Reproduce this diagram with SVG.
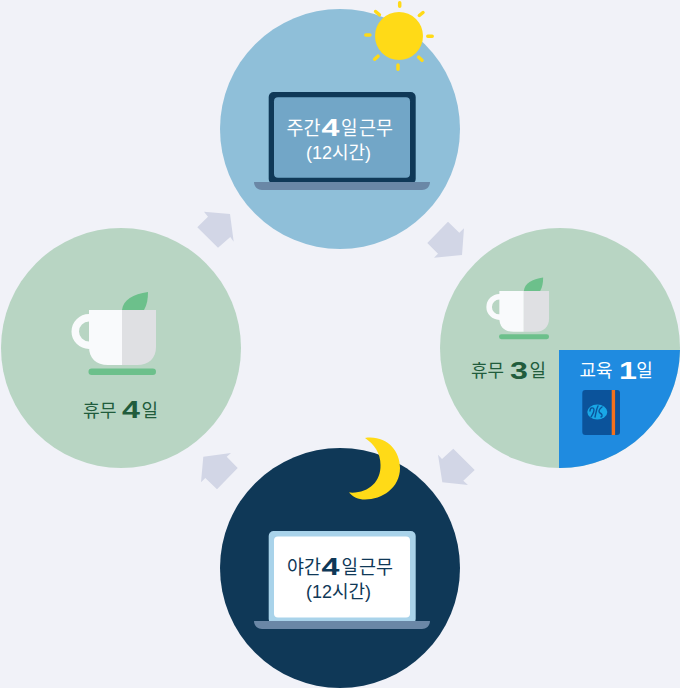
<svg xmlns="http://www.w3.org/2000/svg" width="680" height="688" viewBox="0 0 680 688">
<style>
.k{font-family:"Noto Sans CJK KR","Noto Sans",sans-serif;font-size:18px;font-weight:400}
.t{font-size:19px}
.s{font-family:"Liberation Sans","Noto Sans CJK KR",sans-serif}
.n{font-family:"Liberation Sans",Arial,sans-serif;font-weight:bold;font-size:23px}
.w{fill:#ffffff}.d{fill:#0f3857}.g{fill:#215c3c}
.a{fill:#d2d6e6}
.ray{stroke:#ffda17;stroke-width:3.5;stroke-linecap:round;fill:none}
.swirl{stroke:#0b539b;stroke-width:1.400;fill:none;stroke-linecap:round}
</style>
<defs>
<g id="cup">
<circle cx="18" cy="39.500" r="13.750" fill="none" stroke="#f9fafc" stroke-width="7.500"/>
<path d="M51 18C52 8 62 2 77 0C77 7 76 13 73 18z" fill="#6cc08b"/>
<path d="M18 18H51V73H37C25 73 18 66 18 55z" fill="#f9fafc"/>
<path d="M51 18H85V55C85 66 78 73 66 73H51z" fill="#dfe0e3"/>
<rect x="17.500" y="76.500" width="67.500" height="6.500" rx="3.200" fill="#6cc08b"/>
</g>
</defs>
<rect width="680" height="688" fill="#f1f2f8"/>
<g id="connectors">
<polygon class="a" points="204,211.700 230,214 233.700,241.700 230.300,237 218,247.700 197.300,227.300 208,216.700"/>
<polygon class="a" points="448,221.700 459.300,232.700 464,228.300 462,255 434,257.700 438,253.700 427.300,243"/>
<polygon class="a" points="438,454.700 442,459 453.300,448.700 474.700,470 463.300,480.700 468,485 442.300,482.300"/>
<polygon class="a" points="231,453 226.700,456.700 237.700,468 217,489.300 205.300,478 201,482.300 203.300,456.700"/>
</g>
<g id="node-day">
<circle cx="340" cy="129" r="120" fill="#8fbfd9"/>
<circle cx="399" cy="36" r="24" fill="#ffda17"/>
<path class="ray" d="M399.700 2.800V6.200M419.300 15.500L423 12.500M427.800 36.300H432.200M418.700 57.200L422 60.200M398 65V69.200M374.600 59.200L378 56.200M365.800 35H369.900M375.600 11.500L379.400 14.800"/>
<rect x="268.700" y="92" width="147" height="92" rx="5" fill="#0f3857"/>
<rect x="274" y="97.300" width="136" height="80.400" rx="4" fill="#72a6c7"/>
<path d="M254 182H430C430 187 426 190 422 190H262C258 190 254 187 254 182z" fill="#6a87a6"/>
<text class="k t w" x="286.500" y="134.500" textLength="34" lengthAdjust="spacingAndGlyphs">주간</text>
<text class="n w" x="321.500" y="135.700" transform="translate(321.500,0) scale(1.4,1) translate(-321.500,0)">4</text>
<text class="k t w" x="341" y="134.500" textLength="16.500" lengthAdjust="spacingAndGlyphs">일</text>
<text class="k t w" x="359" y="134.500" textLength="34" lengthAdjust="spacingAndGlyphs">근무</text>
<text class="k s w" x="306" y="158.500" textLength="65" lengthAdjust="spacingAndGlyphs">(12시간)</text>
</g>
<g id="node-rest3">
<circle cx="560" cy="348" r="120" fill="#b8d5c3"/>
<use href="#cup" transform="translate(486,277.600) scale(0.742)"/>
<text class="k g" x="471" y="377" textLength="33" lengthAdjust="spacingAndGlyphs">휴무</text>
<text class="n g" x="510" y="379" transform="translate(510,0) scale(1.4,1) translate(-510,0)">3</text>
<text class="k g" x="529.500" y="377" textLength="16.500" lengthAdjust="spacingAndGlyphs">일</text>
</g>
<g id="node-edu">
<path d="M559 350H680A120 120 0 0 1 559 468z" fill="#1f8be0"/>
<text class="k w" x="579.500" y="377" textLength="33" lengthAdjust="spacingAndGlyphs">교육</text>
<text class="n w" x="619" y="379.500" transform="translate(619,0) scale(1.4,1) translate(-619,0)">1</text>
<text class="k w" x="636.300" y="377" textLength="16.500" lengthAdjust="spacingAndGlyphs">일</text>
<rect x="582.300" y="390" width="37.700" height="45" rx="3" fill="#0b539b"/>
<rect x="611.700" y="390" width="3.400" height="45" fill="#f4711c"/>
<ellipse cx="597.300" cy="412" rx="10" ry="7.500" fill="#19a7e6"/>
<path class="swirl" d="M590 411C590 407 594 407 594 410C594 413 592 415 591 417M598 406C596 410 596 413 595 417M602 407C599 409 598 412 600 413C602 414 603 416 601 417"/>
</g>
<g id="node-rest4">
<circle cx="121" cy="348" r="120" fill="#b8d5c3"/>
<use href="#cup" transform="translate(71,292)"/>
<text class="k g" x="83" y="416.800" textLength="33.500" lengthAdjust="spacingAndGlyphs">휴무</text>
<text class="n g" x="122" y="418.300" transform="translate(122,0) scale(1.4,1) translate(-122,0)">4</text>
<text class="k g" x="141.500" y="416.800" textLength="16.500" lengthAdjust="spacingAndGlyphs">일</text>
</g>
<g id="node-night">
<circle cx="340" cy="568" r="120" fill="#0f3857"/>
<path d="M365 438C386 435 400 450 400 468C400 488 382 499.500 365 499.500C358 499.500 353 497 349 492.500C368 494 381 482 380.500 465C380.500 453 374 444 365 438z" fill="#ffda17"/>
<rect x="268.700" y="531" width="147" height="93" rx="5" fill="#a9d3ea"/>
<rect x="274" y="536.500" width="136" height="81" rx="4" fill="#ffffff"/>
<path d="M254 621H430C430 626 426 629 422 629H262C258 629 254 626 254 621z" fill="#6a87a6"/>
<text class="k t d" x="287" y="573.500" textLength="34" lengthAdjust="spacingAndGlyphs">야간</text>
<text class="n d" x="321.500" y="574.700" transform="translate(321.500,0) scale(1.4,1) translate(-321.500,0)">4</text>
<text class="k t d" x="341.500" y="573.500" textLength="16.500" lengthAdjust="spacingAndGlyphs">일</text>
<text class="k t d" x="359" y="573.500" textLength="34" lengthAdjust="spacingAndGlyphs">근무</text>
<text class="k s d" x="306" y="597.500" textLength="65" lengthAdjust="spacingAndGlyphs">(12시간)</text>
</g>
</svg>
